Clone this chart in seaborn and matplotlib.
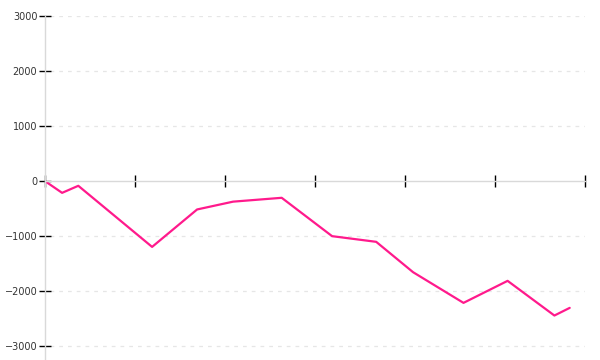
import matplotlib
matplotlib.use("Agg")
import matplotlib.pyplot as plt
import seaborn as sns
import pandas as pd

x_vals = [0, 0.19, 0.37, 1.19, 1.69, 2.09, 2.63, 3.19, 3.68, 4.09, 4.65, 5.14, 5.66, 5.83]
y_vals = [0, -213, -85, -1195, -515, -373, -303, -1000, -1103, -1655, -2212, -1812, -2442, -2303]
y_ticks = [-3000, -2000, -1000, 0, 1000, 2000, 3000]
x_ticks = [0, 1, 2, 3, 4, 5, 6]

sns.set_theme(style="white")
plt.rcParams['font.family'] = ['DejaVu Sans']

df = pd.DataFrame({"x": x_vals, "y": y_vals})

fig = plt.figure(figsize=(6, 3.6), dpi=100)
ax = fig.add_axes([45/600, 0, 540/600, 344/360])

sns.lineplot(data=df, x="x", y="y", ax=ax, color="#ff1a8c", linewidth=1.6)

ax.set_xlim(0, 6)
ax.set_ylim(-3250, 3000)
ax.set_xticks(x_ticks)
ax.set_xticklabels([])
ax.set_yticks(y_ticks)
ax.set_yticklabels([str(v).replace('-', '\u2212') for v in y_ticks])
ax.set_xlabel("")
ax.set_ylabel("")

for v in y_ticks:
    if v != 0:
        ax.axhline(v, color="#e6e6e6", linewidth=0.9, linestyle=(0, (3, 4)), zorder=0,
                   xmin=0.01, xmax=1.0)

for s in ["top", "right"]:
    ax.spines[s].set_visible(False)
ax.spines["bottom"].set_position(("data", 0))
ax.spines["bottom"].set_color("#d9d9d9")
ax.spines["left"].set_color("#d9d9d9")
ax.spines["bottom"].set_linewidth(1)
ax.spines["left"].set_linewidth(1)

ax.tick_params(axis="x", direction="inout", length=9, width=1, color="black", bottom=True)
ax.tick_params(axis="y", direction="inout", length=9, width=1, color="black", left=True,
               labelsize=7, labelcolor="#333333", pad=1)

fig.savefig("out.png", dpi=100)
